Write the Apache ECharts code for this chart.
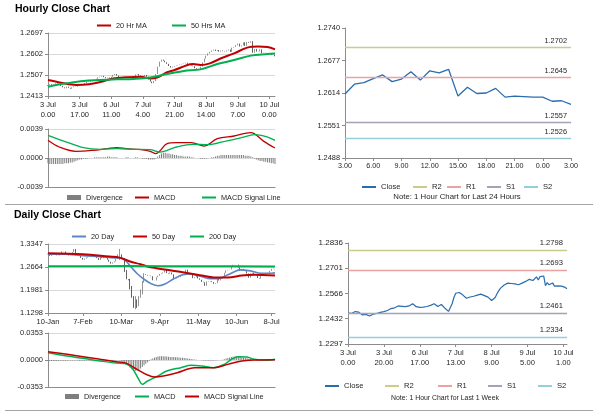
<!DOCTYPE html>
<html><head><meta charset="utf-8">
<script src="https://cdn.jsdelivr.net/npm/echarts@6/dist/echarts.min.js"></script>
<style>html,body{margin:0;padding:0;background:#fff}#c{width:600px;height:413px}</style>
</head><body><div id="c"></div><script>
// ---------------- DATA ----------------
// Hourly closes, 3 Jul 0.00 .. 10 Jul 3.00
const hourlyClose = [
1.2462,1.2466,1.2460,1.2465,1.2470,1.2468,1.2467,1.2458,1.2452,1.2448,
1.2455,1.2450,1.2446,1.2452,1.2456,1.2455,1.2460,1.2463,1.2466,1.2464,
1.2470,1.2478,1.2476,1.2480,1.2486,1.2482,1.2490,1.2497,1.2500,1.2504,
1.2498,1.2493,1.2496,1.2494,1.2500,1.2508,1.2512,1.2505,1.2496,1.2490,
1.2492,1.2495,1.2494,1.2497,1.2497,1.2495,1.2503,1.2510,1.2512,1.2505,
1.2497,1.2502,1.2508,1.2500,1.2488,1.2478,1.2471,1.2480,1.2512,1.2545,
1.2568,1.2577,1.2572,1.2565,1.2558,1.2548,1.2541,1.2545,1.2548,1.2550,
1.2552,1.2555,1.2558,1.2560,1.2563,1.2558,1.2555,1.2550,1.2547,1.2538,
1.2529,1.2535,1.2545,1.2565,1.2582,1.2595,1.2605,1.2612,1.2618,1.2622,
1.2616,1.2620,1.2613,1.2618,1.2615,1.2613,1.2618,1.2622,
1.2612,1.2631,1.2634,1.2642,1.2649,1.2636,1.2641,1.2655,1.2639,1.2657,
1.2653,1.2660,1.2608,1.2625,1.2613,1.2614,1.2623,1.2606,1.2608,1.2607,
1.2606,1.2606,1.2598,1.2599,1.2592];
const hourlyFirstOpen = 1.2458;
const hourlyTickIdx = [0,17,34,51,68,85,102,119];
const hourlyTickLabels = ['3 Jul\n0.00','3 Jul\n17.00','6 Jul\n11.00','7 Jul\n4.00','7 Jul\n21.00','8 Jul\n14.00','9 Jul\n7.00','10 Jul\n0.00'];
const hourlyMA20 = [[0,1.2485],[7,1.2473],[15,1.2463],[22,1.2466],[28,1.2476],[35,1.2492],[42,1.2497],[50,1.2500],[55,1.2492],[59,1.2497],[64,1.2520],[68,1.2530],[75,1.2553],[78,1.2557],[82,1.2553],[87,1.2560],[93,1.2583],[100,1.2605],[107,1.2631],[113,1.2636],[118,1.2634],[122,1.2623]];
const hourlyMA50 = [[0,1.2455],[10,1.2470],[19,1.2481],[28,1.2485],[37,1.2488],[46,1.2490],[55,1.2496],[64,1.2512],[73,1.2526],[82,1.2533],[91,1.2557],[100,1.2575],[109,1.2595],[118,1.2602],[122,1.2605]];
const hourlyYTicks = [1.2413,1.2507,1.2602,1.2697];

const hourlyMacd = [[0,0.00238],[6,0.00148],[15,0.00090],[24,0.00103],[32,0.00126],[37,0.00139],[42,0.00126],[50,0.00112],[55,0.00090],[58,0.00058],[60,0.00090],[64,0.00193],[69,0.00206],[77,0.00206],[84,0.00161],[91,0.00260],[100,0.00296],[109,0.00341],[116,0.00224],[122,0.00134]];
const hourlySignal = [[0,0.00305],[10,0.00215],[19,0.00139],[28,0.00117],[37,0.00126],[46,0.00117],[55,0.00112],[60,0.00080],[69,0.00148],[78,0.00184],[86,0.00179],[95,0.00224],[104,0.00273],[111,0.00314],[118,0.00282],[122,0.00238]];
const hourlyDiv = [
-0.0007,-0.0008,-0.0008,-0.0008,-0.0008,-0.0008,-0.0008,-0.0008,-0.0008,-0.0007,-0.0007,-0.0007,-0.0006,-0.0006,-0.0005,
-0.0004,-0.0003,-0.0002,-0.0002,-0.0001,-0.0001,-0.0001,0.0000,0.0000,0.0000,
0.0001,0.0001,0.0001,0.0001,0.0001,0.0001,0.0001,0.0002,0.0002,0.0001,0.0001,0.0001,0.0001,0.0000,0.0000,
0.0000,0.0000,0.0001,0.0001,0.0000,0.0000,0.0000,0.0001,0.0001,0.0000,0.0000,-0.0001,-0.0001,-0.0001,-0.0002,
-0.0002,-0.0002,-0.0002,-0.0001,0.0002,
0.0004,0.0006,0.0007,0.0007,0.0006,0.0006,0.0005,0.0005,0.0004,0.0004,0.0003,0.0003,0.0003,0.0002,0.0002,0.0002,
0.0002,0.0001,0.0001,0.0000,0.0000,0.0000,-0.0001,-0.0001,-0.0001,-0.0001,0.0000,0.0000,0.0001,0.0001,0.0002,
0.0003,0.0003,0.0004,0.0004,0.0004,0.0004,0.0004,0.0004,0.0004,0.0004,0.0004,0.0004,0.0004,0.0004,0.0004,0.0003,0.0003,0.0003,0.0002,0.0001,
-0.0001,-0.0002,-0.0003,-0.0004,-0.0004,-0.0005,-0.0005,-0.0006,-0.0006,-0.0007,-0.0007,-0.0008];
const hourlyMacdTicks = [-0.0039,0,0.0039];

// Last 24 hours (9 Jul 3.00 .. 10 Jul 3.00)
const last24Start = 98;
const last24Hours = ['3.00','4.00','5.00','6.00','7.00','8.00','9.00','10.00','11.00','12.00','13.00','14.00','15.00','16.00','17.00','18.00','19.00','20.00','21.00','22.00','23.00','0.00','1.00','2.00','3.00'];
const last24Levels = [1.2702,1.2645,1.2557,1.2526];   // R2 R1 S1 S2
const last24YTicks = [1.2488,1.2551,1.2614,1.2677,1.2740];

// Last week
const weekTickIdx = [0,20,40,60,80,100,120];
const weekTickLabels = ['3 Jul\n0.00','3 Jul\n20.00','6 Jul\n17.00','7 Jul\n13.00','8 Jul\n9.00','9 Jul\n5.00','10 Jul\n1.00'];
const weekLevels = [1.2798,1.2693,1.2461,1.2334];
const weekYTicks = [1.2297,1.2432,1.2566,1.2701,1.2836];

// Daily closes 10-Jan .. 10-Jul
const dailyClose = [
1.3063,1.2995,1.3018,1.3040,1.3075,1.3010,1.3005,1.3050,1.3130,1.3125,
1.3070,1.3070,1.3010,1.3015,1.3110,1.3200,1.3010,1.3015,1.2995,1.2935,
1.2880,1.2915,1.2945,1.2970,1.3045,1.3045,1.3010,1.2990,1.2930,1.2875,
1.2960,1.2925,1.2990,1.2930,1.2880,1.2820,1.2765,1.2800,1.2830,1.2900,
1.3040,1.3040,1.2895,1.2905,1.2575,1.2300,1.2270,1.2055,1.1760,1.1610,
1.1650,1.1520,1.1760,1.1870,1.2200,1.2450,1.2430,1.2410,1.2405,1.2390,
1.2270,1.2265,1.2360,1.2405,1.2455,1.2470,1.2500,1.2575,1.2480,1.2465,
1.2500,1.2445,1.2310,1.2320,1.2350,1.2365,1.2410,1.2420,1.2420,1.2585,
1.2490,1.2435,1.2435,1.2335,1.2360,1.2405,1.2325,1.2285,1.2225,1.2210,
1.2105,1.2235,1.2225,1.2240,1.2215,1.2165,1.2185,1.2335,1.2265,1.2320,
1.2345,1.2490,1.2565,1.2580,1.2590,1.2670,1.2730,1.2735,1.2735,1.2650,
1.2545,1.2610,1.2560,1.2540,1.2470,1.2345,1.2470,1.2490,1.2420,1.2420,
1.2335,1.2320,1.2400,1.2465,1.2475,1.2485,1.2490,1.2550,1.2610,1.2605,
1.2595];
const dailyFirstOpen = 1.3040;
// notable daily wicks: [index, low, high]
const dailyWicks = [[41,1.2870,1.3200],[44,1.2520,1.2920],[47,1.2000,1.2310],[48,1.1750,1.2100],[49,1.1450,1.1800],[50,1.1410,1.1800],[51,1.1450,1.1700],[52,1.1500,1.1800],[53,1.1750,1.2000],[54,1.1850,1.2250],[55,1.2200,1.2480]];
const dailyTickIdx = [0,20,42,64,86,108,128];
const dailyTickLabels = ['10-Jan','7-Feb','10-Mar','9-Apr','11-May','10-Jun','8-Jul'];
const dailyMA20 = [[0,1.3042],[10,1.3045],[20,1.3002],[30,1.2973],[38,1.2935],[42,1.2930],[45,1.2820],[48,1.2640],[51,1.2470],[55,1.2300],[59,1.2170],[63,1.2106],[67,1.2160],[72,1.2313],[77,1.2431],[82,1.2461],[88,1.2382],[93,1.2313],[97,1.2313],[103,1.2431],[107,1.2529],[110,1.2579],[116,1.2549],[122,1.2480],[128,1.2480],[130,1.2490]];
const dailyMA50 = [[0,1.3071],[20,1.3042],[35,1.2973],[41,1.2943],[47,1.2825],[53,1.2746],[57,1.2680],[62,1.2630],[68,1.2579],[78,1.2500],[88,1.2411],[95,1.2352],[103,1.2352],[111,1.2411],[118,1.2431],[130,1.2411]];
const dailyMA200 = [[0,1.2688],[45,1.2690],[90,1.2684],[130,1.2682]];
const dailyYTicks = [1.1298,1.1981,1.2664,1.3347];

const dailyMacd = [[0,0.0096],[11,0.0052],[20,0.0022],[30,-0.0013],[39,-0.0040],[44,-0.0045],[48,-0.0100],[52,-0.0253],[54,-0.0318],[57,-0.0275],[63,-0.0209],[68,-0.0144],[76,-0.0100],[82,-0.0070],[88,-0.0078],[95,-0.0100],[101,-0.0057],[105,0.0009],[109,0.0044],[114,0.0039],[118,0.0009],[126,-0.0004],[130,0.0009]];
const dailySignal = [[0,0.0109],[11,0.0074],[20,0.0044],[30,0.0009],[39,-0.0022],[45,-0.0044],[51,-0.0122],[57,-0.0196],[61,-0.0222],[66,-0.0209],[74,-0.0166],[84,-0.0100],[95,-0.0100],[103,-0.0057],[111,-0.0013],[118,0.0000],[130,0.0004]];
const dailyDiv = [
-0.0012,-0.0013,-0.0014,-0.0013,-0.0012,-0.0012,-0.0011,-0.0011,-0.0010,-0.0010,-0.0009,
-0.0009,-0.0008,-0.0008,-0.0007,-0.0006,-0.0007,-0.0008,-0.0009,-0.0010,-0.0010,-0.0009,-0.0008,-0.0007,-0.0006,-0.0006,
-0.0007,-0.0008,-0.0009,-0.0010,-0.0011,-0.0012,-0.0013,-0.0014,-0.0014,-0.0013,-0.0012,-0.0010,-0.0008,-0.0006,-0.0004,
-0.0003,-0.0010,-0.0020,-0.0040,-0.0060,-0.0080,-0.0100,-0.0120,-0.0130,-0.0140,-0.0140,-0.0130,-0.0110,-0.0090,-0.0070,-0.0050,-0.0030,
-0.0010,0.0010,0.0020,0.0030,0.0040,0.0045,0.0050,0.0050,0.0050,0.0048,0.0045,0.0043,0.0040,0.0040,0.0038,0.0036,0.0035,0.0033,0.0030,0.0028,0.0025,0.0022,0.0020,0.0017,0.0014,0.0010,0.0006,0.0003,0.0001,0.0000,
-0.0003,-0.0005,-0.0007,-0.0008,-0.0008,-0.0007,-0.0006,-0.0005,-0.0004,-0.0003,-0.0001,0.0001,0.0004,
0.0010,0.0018,0.0025,0.0032,0.0038,0.0043,0.0047,0.0048,0.0046,0.0042,0.0037,0.0032,0.0027,0.0022,0.0017,0.0012,0.0008,
0.0004,0.0001,-0.0002,-0.0004,-0.0005,-0.0006,-0.0005,-0.0004,-0.0003,-0.0001,0.0001,0.0003,0.0004];
const dailyMacdTicks = [-0.0353,0,0.0353];

// ---------------- STYLE / BUILD ----------------
const FF = '"Liberation Sans", Arial, sans-serif';
const AX = '#8c8c8c', TXT = '#262626';
const RED = '#c00000', GREEN = '#00b050', BLUE20 = '#5b87c5', CLOSE = '#2b6cad';
const LVL = ['#cccc8a', '#eaa2a2', '#a4a2b4', '#92d0de'];

const idxCats = n => Array.from({length: n}, (_, i) => String(i));
function catAxis(gi, cats, tickIdx, tickLabels, fs, show) {
  const has = i => tickIdx.indexOf(i) >= 0;
  return {
    type: 'category', gridIndex: gi, data: cats, boundaryGap: false,
    axisLine: {show: true, onZero: false, lineStyle: {color: AX, width: 1}},
    axisTick: {show: show, interval: i => has(i), length: 3, lineStyle: {color: AX}},
    axisLabel: {show: show, interval: i => has(i), fontSize: fs, color: TXT, fontFamily: FF,
      lineHeight: fs + 2.5, margin: 4, hideOverlap: false,
      formatter: (v, i) => { const k = tickIdx.indexOf(i); return k >= 0 ? tickLabels[k] : ''; }},
    splitLine: {show: false}
  };
}
function valAxis(gi, ticks, fs, split) {
  return {
    type: 'value', gridIndex: gi, min: ticks[0], max: ticks[ticks.length - 1],
    axisLine: {show: true, lineStyle: {color: AX}},
    axisTick: {show: true, customValues: ticks, length: 3, lineStyle: {color: AX}},
    axisLabel: {customValues: ticks, formatter: v => Number(v).toFixed(4), fontSize: fs, color: TXT, fontFamily: FF, margin: 5},
    splitLine: {show: split, lineStyle: {color: '#d9d9d9', width: 1}}
  };
}
function toCandles(close, firstOpen, wicks) {
  const w = {};
  (wicks || []).forEach(r => { w[r[0]] = r; });
  return close.map((c, i) => {
    const o = i ? close[i - 1] : firstOpen;
    let lo = Math.min(o, c), hi = Math.max(o, c);
    if (w[i]) { lo = Math.min(lo, w[i][1]); hi = Math.max(hi, w[i][2]); }
    return [o, c, lo, hi];
  });
}
const candleStyle = {color: '#ffffff', color0: '#3c3c3c', borderColor: '#7a7a7a', borderColor0: '#3c3c3c', borderWidth: 0.8};
function line(name, xi, data, color, width, smooth) {
  return {name, type: 'line', xAxisIndex: xi, yAxisIndex: xi, data, color, showSymbol: false, symbol: 'none',
    smooth: smooth ? 0.35 : false, lineStyle: {width, color}, z: 3, animation: false, silent: true};
}
function levelMarks(levels, fs) {
  return {symbol: ['none', 'none'], silent: true, animation: false, precision: 4,
    data: levels.map((v, i) => ({yAxis: v, lineStyle: {color: LVL[i], type: 'solid', width: 1.3},
      label: {show: true, position: 'insideEndTop', formatter: v.toFixed(4), fontSize: fs, color: TXT, fontFamily: FF, distance: [4, 3]}}))};
}
function leg(name, x, y, kind, fs) {
  return {show: true, selectedMode: false, data: [{name, icon: 'rect'}], left: x, top: y - 4,
    itemWidth: 14, itemHeight: kind === 'bar' ? 5 : 2, itemGap: 0, padding: 0,
    textStyle: {fontSize: fs, color: TXT, fontFamily: FF}, formatter: n => n.split('#')[0]};
}

const nH = hourlyClose.length, nD = dailyClose.length;
const last24 = hourlyClose.slice(last24Start);

const option = {
  animation: false,
  backgroundColor: '#ffffff',
  grid: [
    {left: 48, top: 33, width: 227, height: 63},
    {left: 48, top: 129, width: 227, height: 58},
    {left: 345, top: 28, width: 226, height: 130},
    {left: 48, top: 244, width: 227, height: 69},
    {left: 48, top: 333, width: 227, height: 54},
    {left: 348, top: 243, width: 219, height: 101}
  ],
  xAxis: [
    catAxis(0, idxCats(nH), hourlyTickIdx, hourlyTickLabels, 7.5, true),
    catAxis(1, idxCats(nH), hourlyTickIdx, hourlyTickLabels, 7.5, false),
    Object.assign(catAxis(2, last24Hours, [0,3,6,9,12,15,18,21,24], [], 7.2, true),
      {axisLabel: {interval: 2, fontSize: 7.2, color: TXT, fontFamily: FF, margin: 5}, axisTick: {interval: 2, length: 3, lineStyle: {color: AX}}}),
    catAxis(3, idxCats(nD), dailyTickIdx, dailyTickLabels, 7.5, true),
    catAxis(4, idxCats(nD), dailyTickIdx, dailyTickLabels, 7.5, false),
    catAxis(5, idxCats(nH), weekTickIdx, weekTickLabels, 7.6, true)
  ],
  yAxis: [
    valAxis(0, hourlyYTicks, 7.5, true),
    valAxis(1, hourlyMacdTicks, 7.5, true),
    valAxis(2, last24YTicks, 7.4, false),
    valAxis(3, dailyYTicks, 7.5, true),
    valAxis(4, dailyMacdTicks, 7.5, true),
    valAxis(5, weekYTicks, 8, false)
  ],
  legend: [
    leg('20 Hr MA', 97, 26, 'line', 7.3), leg('50 Hrs MA', 172, 26, 'line', 7.3),
    leg('Divergence#h', 67, 198, 'bar', 7.3), leg('MACD#h', 135, 198, 'line', 7.3), leg('MACD Signal Line#h', 202, 198, 'line', 7.3),
    leg('Close#h', 362, 187, 'line', 7.6), leg('R2#h', 413, 187, 'line', 7.6), leg('R1#h', 447, 187, 'line', 7.6), leg('S1#h', 487, 187, 'line', 7.6), leg('S2#h', 524, 187, 'line', 7.6),
    leg('20 Day', 72, 237, 'line', 7.3), leg('50 Day', 133, 237, 'line', 7.3), leg('200 Day', 190, 237, 'line', 7.3),
    leg('Divergence#d', 65, 397, 'bar', 7.3), leg('MACD#d', 135, 397, 'line', 7.3), leg('MACD Signal Line#d', 185, 397, 'line', 7.3),
    leg('Close#w', 325, 386, 'line', 7.6), leg('R2#w', 385, 386, 'line', 7.6), leg('R1#w', 438, 386, 'line', 7.6), leg('S1#w', 488, 386, 'line', 7.6), leg('S2#w', 538, 386, 'line', 7.6)
  ],
  series: [
    {type: 'candlestick', xAxisIndex: 0, yAxisIndex: 0, data: toCandles(hourlyClose, hourlyFirstOpen), itemStyle: candleStyle, barMaxWidth: 1.6, silent: true},
    line('20 Hr MA', 0, hourlyMA20, RED, 2, true),
    line('50 Hrs MA', 0, hourlyMA50, GREEN, 2, true),

    {name: 'Divergence#h', type: 'bar', xAxisIndex: 1, yAxisIndex: 1, data: hourlyDiv, color: '#7f7f7f', barWidth: 1, silent: true},
    line('MACD#h', 1, hourlyMacd, RED, 1.3, true),
    line('MACD Signal Line#h', 1, hourlySignal, GREEN, 1.3, true),

    Object.assign(line('Close#h', 2, last24, CLOSE, 1.3, false), {markLine: levelMarks(last24Levels, 7.4)}),
    {name: 'R2#h', type: 'line', xAxisIndex: 2, yAxisIndex: 2, data: [], color: LVL[0]},
    {name: 'R1#h', type: 'line', xAxisIndex: 2, yAxisIndex: 2, data: [], color: LVL[1]},
    {name: 'S1#h', type: 'line', xAxisIndex: 2, yAxisIndex: 2, data: [], color: LVL[2]},
    {name: 'S2#h', type: 'line', xAxisIndex: 2, yAxisIndex: 2, data: [], color: LVL[3]},

    {type: 'candlestick', xAxisIndex: 3, yAxisIndex: 3, data: toCandles(dailyClose, dailyFirstOpen, dailyWicks), itemStyle: candleStyle, barMaxWidth: 1.6, silent: true},
    line('20 Day', 3, dailyMA20, BLUE20, 1.6, true),
    line('50 Day', 3, dailyMA50, RED, 2, true),
    line('200 Day', 3, dailyMA200, GREEN, 2, true),

    {name: 'Divergence#d', type: 'bar', xAxisIndex: 4, yAxisIndex: 4, data: dailyDiv, color: '#7f7f7f', barWidth: 1, silent: true},
    line('MACD#d', 4, dailyMacd, GREEN, 1.5, true),
    line('MACD Signal Line#d', 4, dailySignal, RED, 1.5, true),

    Object.assign(line('Close#w', 5, hourlyClose, CLOSE, 1.2, false), {markLine: levelMarks(weekLevels, 7.6)}),
    {name: 'R2#w', type: 'line', xAxisIndex: 5, yAxisIndex: 5, data: [], color: LVL[0]},
    {name: 'R1#w', type: 'line', xAxisIndex: 5, yAxisIndex: 5, data: [], color: LVL[1]},
    {name: 'S1#w', type: 'line', xAxisIndex: 5, yAxisIndex: 5, data: [], color: LVL[2]},
    {name: 'S2#w', type: 'line', xAxisIndex: 5, yAxisIndex: 5, data: [], color: LVL[3]}
  ],
  graphic: [
    {type: 'text', left: 15, top: 4, style: {text: 'Hourly Close Chart', font: 'bold 10.5px "Liberation Sans", Arial', fill: '#000'}},
    {type: 'text', left: 14, top: 210, style: {text: 'Daily Close Chart', font: 'bold 10.5px "Liberation Sans", Arial', fill: '#000'}},
    {type: 'text', x: 457, y: 197, style: {text: 'Note: 1 Hour Chart for Last 24 Hours', font: '7.8px "Liberation Sans", Arial', fill: TXT, align: 'center', verticalAlign: 'middle'}},
    {type: 'text', x: 445, y: 398, style: {text: 'Note: 1 Hour Chart for Last 1 Week', font: '6.9px "Liberation Sans", Arial', fill: TXT, align: 'center', verticalAlign: 'middle'}},
    {type: 'line', shape: {x1: 5, y1: 204.5, x2: 593, y2: 204.5}, style: {stroke: '#a6a6a6', lineWidth: 1}},
    {type: 'line', shape: {x1: 5, y1: 410.5, x2: 593, y2: 410.5}, style: {stroke: '#a6a6a6', lineWidth: 1}}
  ]
};
const chart = echarts.init(document.getElementById('c'), null, {renderer: 'canvas'});
chart.setOption(option);
</script></body></html>
